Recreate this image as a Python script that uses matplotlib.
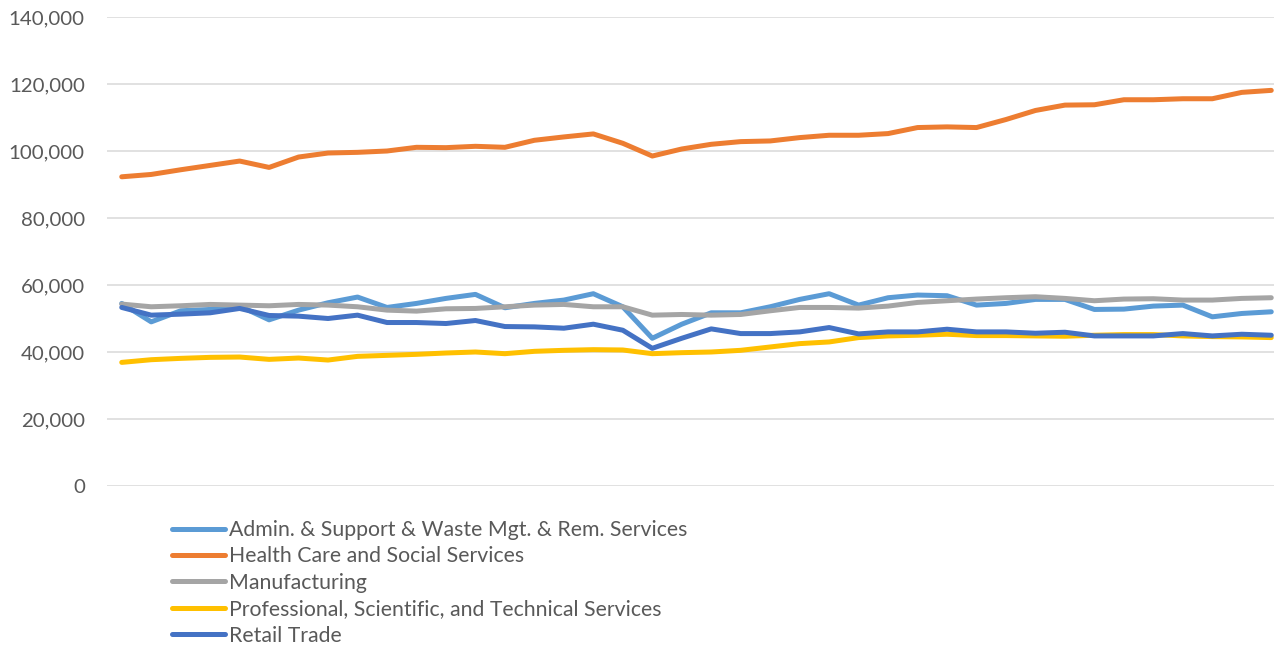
import matplotlib
matplotlib.use("Agg")
import matplotlib.pyplot as plt
from matplotlib.ticker import FuncFormatter, MultipleLocator

series_names = [
    "Admin. & Support & Waste Mgt. & Rem. Services",
    "Health Care and Social Services",
    "Manufacturing",
    "Professional, Scientific, and Technical Services",
    "Retail Trade",
]

admin = [54500, 49000, 52300, 52700, 53700, 49600, 52500, 54700, 56400, 53300,
         54500, 56000, 57200, 53200, 54500, 55500, 57400, 53500, 44100, 48300,
         51700, 51700, 53500, 55700, 57400, 54000, 56200, 57000, 56800, 54000,
         54500, 55700, 55700, 52700, 52800, 53700, 54000, 50500, 51500, 52000]

health = [92300, 93000, 94400, 95700, 97000, 95100, 98200, 99400, 99600, 100000,
          101100, 101000, 101400, 101100, 103200, 104200, 105100, 102300, 98500, 100600,
          102000, 102800, 103000, 104000, 104700, 104700, 105200, 107000, 107200, 107000,
          109400, 112100, 113700, 113800, 115300, 115300, 115600, 115600, 117500, 118100]

manufacturing = [54300, 53500, 53800, 54200, 54000, 53800, 54200, 54000, 53500, 52500,
                 52200, 52900, 53000, 53500, 54000, 54200, 53500, 53500, 51000, 51200,
                 51000, 51200, 52300, 53300, 53300, 53100, 53700, 54800, 55300, 55800,
                 56200, 56500, 56000, 55300, 55800, 55900, 55500, 55500, 56000, 56200]

professional = [36900, 37700, 38100, 38400, 38500, 37800, 38200, 37600, 38700, 39000,
                39300, 39700, 40000, 39500, 40200, 40500, 40700, 40600, 39500, 39800,
                40000, 40500, 41500, 42500, 43000, 44300, 44800, 45000, 45300, 44900,
                44900, 44800, 44700, 45000, 45200, 45200, 44800, 44600, 44500, 44300]

retail = [53300, 51000, 51300, 51700, 53000, 50900, 50700, 50000, 51000, 48800,
          48800, 48500, 49400, 47600, 47500, 47100, 48300, 46500, 41100, 44100,
          46900, 45500, 45500, 46000, 47300, 45400, 46000, 46000, 46800, 46000,
          46000, 45600, 45900, 44800, 44800, 44800, 45500, 44800, 45300, 45000]

colors = ["#5B9BD5", "#ED7D31", "#A5A5A5", "#FFC000", "#4472C4"]
all_series = [admin, health, manufacturing, professional, retail]

plt.rcParams["font.family"] = ["Lato", "DejaVu Sans"]

W, H = 1274, 647
fig = plt.figure(figsize=(W / 100, H / 100), dpi=100)
ax_left, ax_right, ax_top, ax_bottom = 107, 1286, 17, 486
ax = fig.add_axes([ax_left / W, 1 - ax_bottom / H, (ax_right - ax_left) / W, (ax_bottom - ax_top) / H])

x = list(range(len(health)))
handles = []
for name, vals, c in zip(series_names, all_series, colors):
    h, = ax.plot(x, vals, color=c, lw=3.6, solid_capstyle="round",
                 solid_joinstyle="round", label=name, zorder=3)
    handles.append(h)

ax.set_xlim(-0.5, len(x) - 0.5)
ax.set_ylim(0, 140000)
ax.yaxis.set_major_locator(MultipleLocator(20000))
ax.yaxis.set_major_formatter(FuncFormatter(lambda v, p: f"{int(v):,}"))
ax.grid(axis="y", color="#D9D9D9", lw=1.1, zorder=0)
ax.set_xticks([])
for s in ax.spines.values():
    s.set_visible(False)
ax.tick_params(axis="y", length=0, pad=16, labelsize=14.7, labelcolor="#595959")

leg = fig.legend(handles=handles, loc="upper left",
                 bbox_to_anchor=(172 / W, 1 - 520 / H),
                 frameon=False, borderpad=0, borderaxespad=0,
                 handlelength=2.5, handletextpad=0.2, labelspacing=0.3,
                 fontsize=15.3)
for t in leg.get_texts():
    t.set_color("#595959")

fig.savefig("out.png", dpi=100)
